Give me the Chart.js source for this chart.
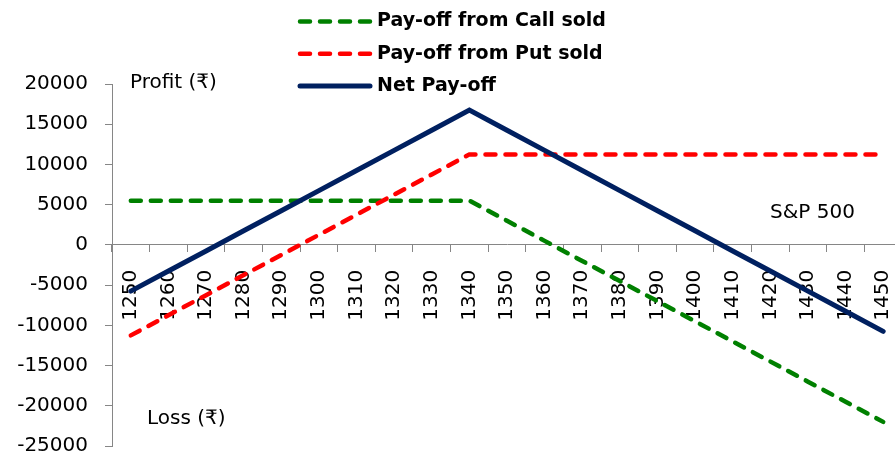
<!DOCTYPE html>
<html>
<head>
<meta charset="utf-8">
<script src="https://cdn.jsdelivr.net/npm/chart.js@4.4.1/dist/chart.umd.min.js"></script>
<style>
  html, body { margin: 0; padding: 0; background: #fff; overflow: hidden; }
  #wrap { width: 910px; height: 455px; }
</style>
</head>
<body>
<div id="wrap"><canvas id="chart" width="910" height="455"></canvas></div>
<script>
// --- Data ---
const strikes = ['1250', '1260', '1270', '1280', '1290', '1300', '1310', '1320', '1330', '1340', '1350',
                 '1360', '1370', '1380', '1390', '1400', '1410', '1420', '1430', '1440', '1450'];
const callSold = [5500, 5500, 5500, 5500, 5500, 5500, 5500, 5500, 5500, 5500, 3000,
                  500, -2000, -4500, -7000, -9500, -12000, -14500, -17000, -19500, -22000];
const putSold = [-11250, -8750, -6250, -3750, -1250, 1250, 3750, 6250, 8750, 11250, 11250,
                 11250, 11250, 11250, 11250, 11250, 11250, 11250, 11250, 11250, 11250];
const netPayoff = [-5750, -3250, -750, 1750, 4250, 6750, 9250, 11750, 14250, 16750, 14250,
                   11750, 9250, 6750, 4250, 1750, -750, -3250, -5750, -8250, -10750];
const yTicks = [20000, 15000, 10000, 5000, 0, -5000, -10000, -15000, -20000, -25000];

const FONT = '"DejaVu Sans", Verdana, sans-serif';
const AXIS_GREY = '#868686';

// no extra room for label overflow, the layout padding decides the plot box
const noOverflow = (scale) => {
    scale.paddingLeft = 0;
    scale.paddingRight = 0;
    scale.paddingTop = 0;
    scale.paddingBottom = 0;
};

// draws the stacked legend and the free text labels
const extrasPlugin = {
    id: 'extras',
    afterDraw(chart) {
        const ctx = chart.ctx;
        const area = chart.chartArea;
        ctx.save();

        // legend (three rows, top middle)
        [0, 1, 2].forEach((i) => {
            const ds = chart.data.datasets[i];
            const y = 21.5 + i * 32.3;
            ctx.beginPath();
            ctx.strokeStyle = ds.borderColor;
            ctx.lineWidth = ds.borderWidth;
            ctx.lineCap = 'round';
            ctx.setLineDash(ds.borderDash || []);
            ctx.moveTo(300, y);
            ctx.lineTo(370, y);
            ctx.stroke();
            ctx.setLineDash([]);
            ctx.fillStyle = '#000';
            ctx.font = 'bold 19px ' + FONT;
            ctx.textBaseline = 'middle';
            ctx.textAlign = 'left';
            ctx.fillText(ds.label, 377, y);
        });

        // text notes
        ctx.fillStyle = '#000';
        ctx.font = '20px ' + FONT;
        ctx.textBaseline = 'alphabetic';
        ctx.textAlign = 'left';
        ctx.fillText('Profit (\u20B9)', area.left + 18, 88);
        ctx.fillText('Loss (\u20B9)', area.left + 35, 424);
        ctx.fillText('S&P 500', 770, 218);
        ctx.restore();
    }
};

const ctx = document.getElementById('chart').getContext('2d');
new Chart(ctx, {
    type: 'line',
    data: {
        labels: strikes,
        datasets: [
            {
                label: 'Pay-off from Call sold',
                data: callSold,
                borderColor: '#008000',
                borderWidth: 4.5,
                borderDash: [10, 10],
                borderCapStyle: 'round',
                pointRadius: 0,
                tension: 0,
                order: 3
            },
            {
                label: 'Pay-off from Put sold',
                data: putSold,
                borderColor: '#ff0000',
                borderWidth: 4.5,
                borderDash: [10, 10],
                borderCapStyle: 'round',
                pointRadius: 0,
                tension: 0,
                order: 2
            },
            {
                label: 'Net Pay-off',
                data: netPayoff,
                borderColor: '#002060',
                borderWidth: 5,
                borderCapStyle: 'round',
                pointRadius: 0,
                tension: 0,
                order: 1
            }
        ]
    },
    options: {
        responsive: false,
        animation: false,
        layout: { padding: { top: 84, right: 8, bottom: 9, left: 0 } },
        scales: {
            x: {
                type: 'category',
                position: { y: 0 },
                offset: true,
                afterFit: noOverflow,
                grid: {
                    offset: true,
                    drawOnChartArea: false,
                    drawTicks: true,
                    // long tick slot pushes the labels down, the dash keeps the visible mark short
                    tickLength: 22,
                    tickBorderDash: [7, 60],
                    color: AXIS_GREY
                },
                border: { display: true, color: AXIS_GREY, width: 1 },
                ticks: {
                    autoSkip: false,
                    maxRotation: 90,
                    minRotation: 90,
                    color: '#000',
                    font: { family: FONT, size: 20 }
                }
            },
            y: {
                min: -25000,
                max: 20000,
                afterFit: (scale) => { scale.width = 112; noOverflow(scale); },
                afterBuildTicks: (scale) => { scale.ticks = yTicks.map((v) => ({ value: v })); },
                grid: {
                    drawOnChartArea: false,
                    drawTicks: true,
                    tickLength: 7,
                    color: AXIS_GREY
                },
                border: { display: true, color: AXIS_GREY, width: 1 },
                ticks: {
                    padding: 17,
                    color: '#000',
                    font: { family: FONT, size: 20 },
                    callback: (v) => String(v)
                }
            }
        },
        plugins: {
            legend: { display: false },
            tooltip: { enabled: false }
        }
    },
    plugins: [extrasPlugin]
});
</script>
</body>
</html>
